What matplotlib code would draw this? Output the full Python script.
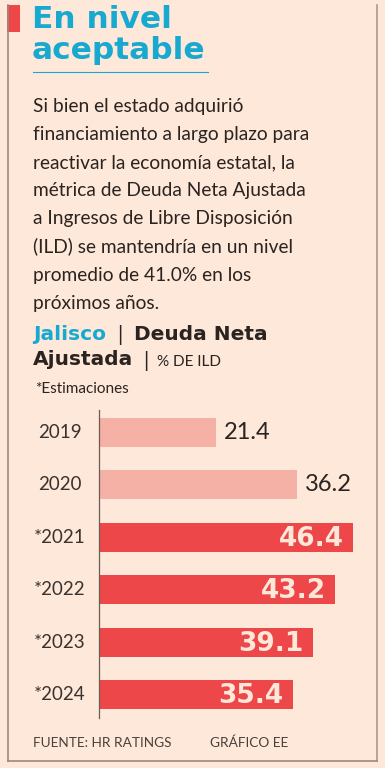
import matplotlib.pyplot as plt
from matplotlib.lines import Line2D
from matplotlib.patches import Rectangle

years = ["2019", "2020", "*2021", "*2022", "*2023", "*2024"]
values = [21.4, 36.2, 46.4, 43.2, 39.1, 35.4]
estimated = [False, False, True, True, True, True]

body_lines = [
    "Si bien el estado adquirió",
    "financiamiento a largo plazo para",
    "reactivar la economía estatal, la",
    "métrica de Deuda Neta Ajustada",
    "a Ingresos de Libre Disposición",
    "(ILD) se mantendría en un nivel",
    "promedio de 41.0% en los",
    "próximos años.",
]

bg = "#fde8da"
cyan = "#17a9d0"
red = "#ee4749"
pink = "#f5b1a6"
dark = "#2a2320"
heavy = ["DejaVu Sans"]

W, H = 385, 768
fig = plt.figure(figsize=(W / 100, H / 100), dpi=100, facecolor=bg)
plt.rcParams["font.family"] = ["Lato", "DejaVu Sans"]


def fx(x):
    return x / W


def fy(y):
    return 1 - y / H


# frame
fig.add_artist(Line2D([fx(8), fx(8)], [fy(5), fy(761)], color="#9a8a80", lw=1.2))
fig.add_artist(Line2D([fx(377), fx(377)], [fy(5), fy(761)], color="#a89a90", lw=1.2))
fig.add_artist(Line2D([fx(8), fx(377)], [fy(761), fy(761)], color="#9a8a80", lw=1.2))
fig.add_artist(Rectangle((fx(7), fy(32)), fx(13) - fx(0), fy(5) - fy(32),
                         transform=fig.transFigure, color=red, lw=0))

# title
fig.text(fx(32), fy(28.5), "En nivel", color=cyan, fontsize=22.5, fontweight="bold",
         family=heavy, va="baseline")
fig.text(fx(32), fy(59), "aceptable", color=cyan, fontsize=22.5, fontweight="bold",
         family=heavy, va="baseline")
fig.add_artist(Line2D([fx(33), fx(208)], [fy(72), fy(72)], color=cyan, lw=0.8))

# body
for i, line in enumerate(body_lines):
    fig.text(fx(33), fy(112 + i * 28.1), line, color=dark, fontsize=13.8, va="baseline")

# subtitle
fig.text(fx(33), fy(340), "Jalisco", color=cyan, fontsize=14.5, fontweight="bold",
         family=heavy, va="baseline")
fig.text(fx(117), fy(341), "|", color=dark, fontsize=15, va="baseline")
fig.text(fx(134), fy(340), "Deuda Neta", color=dark, fontsize=14.5, fontweight="bold",
         family=heavy, va="baseline")
fig.text(fx(33), fy(365), "Ajustada", color=dark, fontsize=14.5, fontweight="bold",
         family=heavy, va="baseline")
fig.text(fx(143), fy(367), "|", color=dark, fontsize=15, va="baseline")
fig.text(fx(157), fy(366), "% DE ILD", color=dark, fontsize=11, va="baseline")
fig.text(fx(35), fy(393), "*Estimaciones", color=dark, fontsize=11, va="baseline")

# bars
ax = fig.add_axes([fx(99), fy(718), fx(372.5) - fx(99), fy(410) - fy(718)])
ax.set_facecolor("none")
pos = list(range(len(years)))
colors = [red if e else pink for e in estimated]
ax.barh(pos, values, height=0.55, color=colors, left=0)
ax.set_xlim(0, 50)
ax.set_ylim(5.44, -0.42)
for s in ["top", "right", "bottom"]:
    ax.spines[s].set_visible(False)
ax.spines["left"].set_color("#6b5d55")
ax.spines["left"].set_linewidth(0.9)
ax.set_xticks([])
ax.set_yticks([])

for p, y, v, e in zip(pos, years, values, estimated):
    ax.text(-7.2, p, y, ha="center", va="center", color="#3a322e", fontsize=13.5)
    if e:
        ax.text(v - 1.7, p + 0.03, f"{v:.1f}", ha="right", va="center", color=bg,
                fontsize=19, fontweight="bold", family=heavy)
    else:
        ax.text(v + 1.4, p, f"{v:.1f}", ha="left", va="center", color=dark, fontsize=17)

# footer
fig.text(fx(33), fy(747), "FUENTE: HR RATINGS", color="#4a403b", fontsize=9.8, va="baseline")
fig.text(fx(210), fy(747), "GRÁFICO EE", color="#4a403b", fontsize=9.8, va="baseline")

fig.savefig("out.png", dpi=100, facecolor=bg)
